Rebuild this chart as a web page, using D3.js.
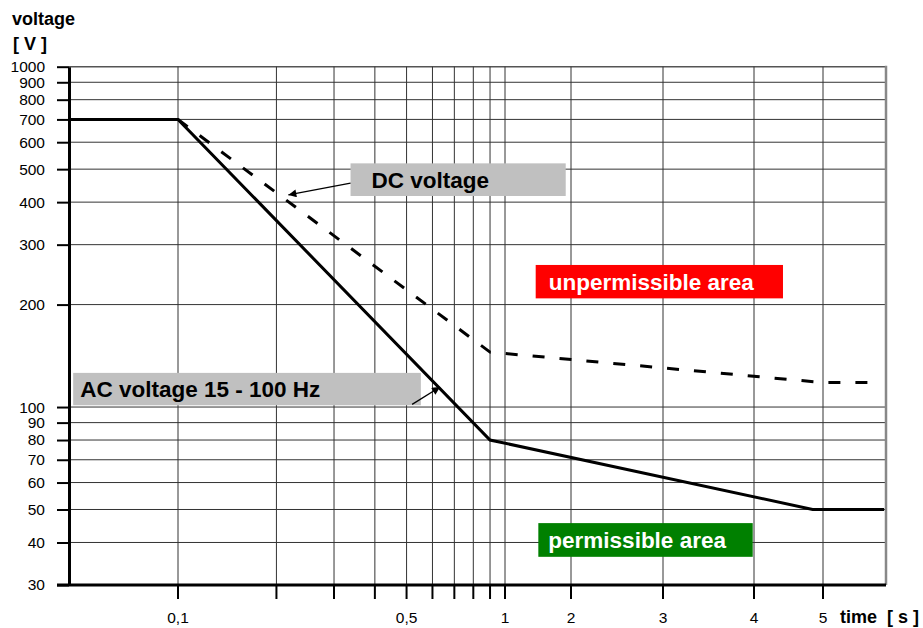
<!DOCTYPE html>
<html>
<head>
<meta charset="utf-8">
<script src="https://cdn.jsdelivr.net/npm/d3@7"></script>
<style>
  body { margin: 0; background: #fff; }
  svg { display: block; font-family: "Liberation Sans", Arial, sans-serif; }
</style>
</head>
<body>
<div id="chart"></div>
<script>
// time [s] / voltage [V] values
const acCurve = [[0.0465, 700], [0.1, 700], [0.9, 80], [4.85, 50], [5.97, 50]];
const dcCurve = [[0.1, 700], [0.9, 145], [5, 118], [5.9, 118]];

const xTicks = [0.1, 0.2, 0.3, 0.4, 0.5, 0.6, 0.7, 0.8, 0.9, 1, 2, 3, 4, 5];
const xTickLabels = { 0.1: '0,1', 0.5: '0,5', 1: '1', 2: '2', 3: '3', 4: '4', 5: '5' };
const yTicks = [30, 40, 50, 60, 70, 80, 90, 100, 200, 300, 400, 500, 600, 700, 800, 900, 1000];

// boxes: [t0, t1, vTop, vBottom]
const labelBoxes = [
  { text: 'DC voltage', box: [0.337, 1.92, 520, 417], fill: '#c0c0c0', color: '#000', dx: 21 },
  { text: 'AC voltage 15 - 100 Hz', box: [0.0478, 0.553, 126, 101.2], fill: '#c0c0c0', color: '#000', dx: 7 },
  { text: 'unpermissible area', box: [1.465, 4.42, 261.5, 208.6], fill: '#ff0000', color: '#fff', dx: 13 },
  { text: 'permissible area', box: [1.505, 3.986, 45.6, 36.3], fill: '#008000', color: '#fff', dx: 10 }
];
// arrows: [from, to] in [t, v]
const arrows = [
  [[0.337, 455], [0.2175, 420]],
  [[0.52, 101.8], [0.633, 114.5]]
];

const width = 923;
const height = 628;
const plotLeft = 69, plotRight = 886, plotTop = 66.7, plotBottom = 585;

// the time axis is logarithmic up to 1 s and roughly linear after it
const xLog = d3.scaleLog().domain([0.1, 1]).range([178, 505]);
const xLin = d3.scaleLinear().domain([1, 2, 3, 4, 5, 6]).range([505, 571, 663, 754, 823, 886]);
const x = t => (t <= 1 ? xLog(t) : xLin(t));

const y = d3.scaleLog().domain([30, 1000]).range([plotBottom, plotTop]);

const svg = d3.select('#chart')
  .append('svg')
  .attr('width', width)
  .attr('height', height);

// grid
svg.append('g')
  .selectAll('line')
  .data(yTicks)
  .enter().append('line')
  .attr('x1', plotLeft).attr('x2', plotRight)
  .attr('y1', d => y(d)).attr('y2', d => y(d))
  .style('stroke', d => (d === 1000 ? '#555' : '#333'))
  .style('stroke-width', d => (d === 1000 ? 1.6 : 1));

svg.append('g')
  .selectAll('line')
  .data(xTicks)
  .enter().append('line')
  .attr('x1', d => x(d)).attr('x2', d => x(d))
  .attr('y1', plotTop).attr('y2', plotBottom)
  .style('stroke', '#333')
  .style('stroke-width', 1);

// right frame
svg.append('line')
  .attr('x1', plotRight).attr('x2', plotRight)
  .attr('y1', plotTop - 1).attr('y2', plotBottom)
  .style('stroke', '#888')
  .style('stroke-width', 2.5);

// y axis
const yAxis = svg.append('g')
  .attr('transform', `translate(${plotLeft},0)`)
  .call(d3.axisLeft(y).tickValues(yTicks).tickSize(12).tickSizeOuter(0).tickPadding(12).tickFormat(d3.format('d')));
yAxis.select('.domain').style('stroke', '#000').style('stroke-width', 3);
yAxis.selectAll('.tick line').style('stroke', '#000').style('stroke-width', 2);
yAxis.selectAll('.tick text').style('font-size', '15.5px').style('fill', '#000')
  .style('font-family', '"Liberation Sans", Arial, sans-serif');

// x axis
svg.append('line')
  .attr('x1', plotLeft - 12).attr('x2', plotRight)
  .attr('y1', plotBottom).attr('y2', plotBottom)
  .style('stroke', '#000')
  .style('stroke-width', 3);

svg.append('g')
  .selectAll('line')
  .data(xTicks)
  .enter().append('line')
  .attr('x1', d => x(d)).attr('x2', d => x(d))
  .attr('y1', plotBottom).attr('y2', plotBottom + 14)
  .style('stroke', '#000')
  .style('stroke-width', 2);

svg.append('g')
  .selectAll('text')
  .data(xTicks.filter(d => xTickLabels[d]))
  .enter().append('text')
  .attr('x', d => x(d))
  .attr('y', 623)
  .attr('text-anchor', 'middle')
  .style('font-size', '15.5px')
  .text(d => xTickLabels[d]);

// axis titles
svg.append('text').attr('x', 12).attr('y', 25)
  .style('font-size', '18px').style('font-weight', 'bold').text('voltage');
svg.append('text').attr('x', 13).attr('y', 50)
  .style('font-size', '18px').style('font-weight', 'bold').style('white-space', 'pre').text('[ V ]');
svg.append('text').attr('x', 840).attr('y', 623)
  .style('font-size', '18px').style('font-weight', 'bold').style('white-space', 'pre').text('time  [ s ]');

// curves
const line = d3.line().x(d => x(d[0])).y(d => y(d[1]));

svg.append('path')
  .datum(dcCurve)
  .attr('d', line)
  .style('fill', 'none')
  .style('stroke', '#000')
  .style('stroke-width', 3)
  .style('stroke-dasharray', '12,15');

svg.append('path')
  .datum(acCurve)
  .attr('d', line)
  .style('fill', 'none')
  .style('stroke', '#000')
  .style('stroke-width', 3);

// labels
const boxes = svg.append('g')
  .selectAll('g')
  .data(labelBoxes)
  .enter().append('g');

boxes.append('rect')
  .attr('x', d => x(d.box[0]))
  .attr('y', d => y(d.box[2]))
  .attr('width', d => x(d.box[1]) - x(d.box[0]))
  .attr('height', d => y(d.box[3]) - y(d.box[2]))
  .style('fill', d => d.fill);

boxes.append('text')
  .attr('x', d => x(d.box[0]) + d.dx)
  .attr('y', d => (y(d.box[2]) + y(d.box[3])) / 2 + 8)
  .style('font-size', '22.5px')
  .style('font-weight', 'bold')
  .style('fill', d => d.color)
  .text(d => d.text);

// arrows
svg.append('defs').append('marker')
  .attr('id', 'arrow')
  .attr('viewBox', '0 0 10 10')
  .attr('refX', 10).attr('refY', 5)
  .attr('markerWidth', 12).attr('markerHeight', 8)
  .attr('markerUnits', 'userSpaceOnUse')
  .attr('orient', 'auto')
  .append('path')
  .attr('d', 'M0,0L10,5L0,10z')
  .style('fill', '#000');

svg.append('g')
  .selectAll('line')
  .data(arrows)
  .enter().append('line')
  .attr('x1', d => x(d[0][0])).attr('y1', d => y(d[0][1]))
  .attr('x2', d => x(d[1][0])).attr('y2', d => y(d[1][1]))
  .style('stroke', '#000')
  .style('stroke-width', 1.3)
  .attr('marker-end', 'url(#arrow)');
</script>
</body>
</html>
